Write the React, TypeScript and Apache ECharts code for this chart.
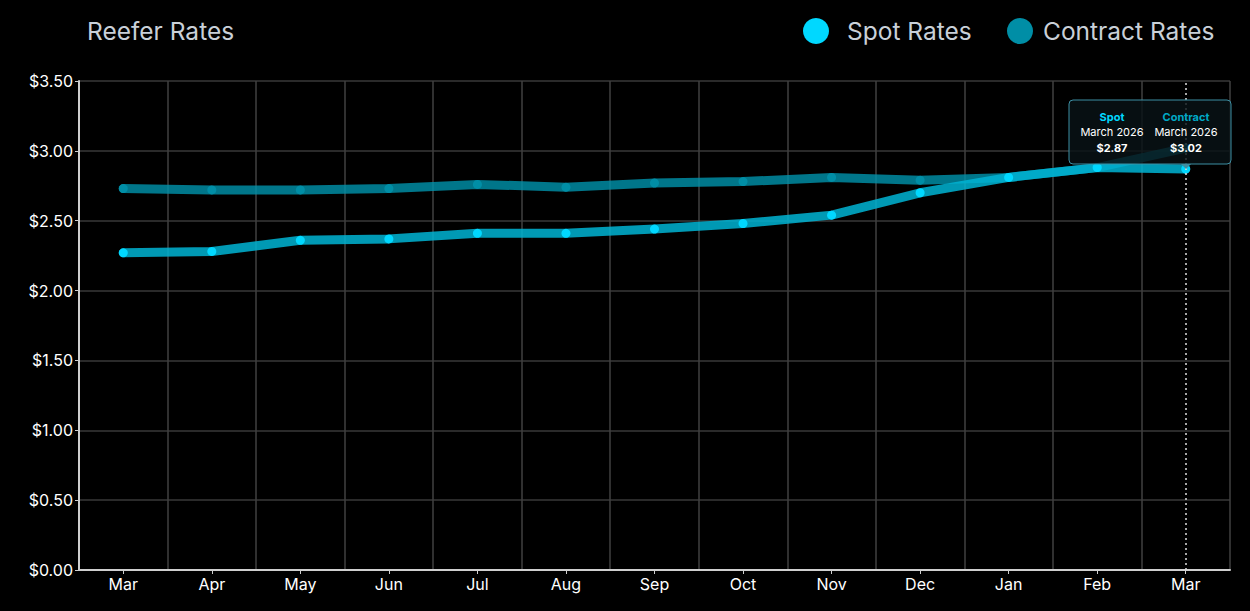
import React, { useEffect, useRef } from "react";
import * as echarts from "echarts";

const categories = ["Mar", "Apr", "May", "Jun", "Jul", "Aug", "Sep", "Oct", "Nov", "Dec", "Jan", "Feb", "Mar"];
const spotRates = [2.27, 2.28, 2.36, 2.37, 2.41, 2.41, 2.44, 2.48, 2.54, 2.70, 2.81, 2.88, 2.87];
const contractRates = [2.73, 2.72, 2.72, 2.73, 2.76, 2.74, 2.77, 2.78, 2.81, 2.79, 2.81, 2.88, 3.02];
const yTicks = [0, 0.5, 1, 1.5, 2, 2.5, 3, 3.5];
const tooltipPeriod = "March 2026";
const title = "Reefer Rates";
const seriesNames = ["Spot Rates", "Contract Rates"];

const SPOT = "#00d8ff";
const CONTRACT = "#0097b2";
const FONT = "Inter, 'Liberation Sans', sans-serif";

export default function App() {
  const ref = useRef<HTMLDivElement>(null);
  useEffect(() => {
    document.body.style.margin = "0";
    document.body.style.background = "#000";
    const chart = echarts.init(ref.current!, null, { renderer: "svg" });
    const last = categories.length - 1;
    const boxX = 1069, boxY = 100, boxW = 162, boxH = 64;
    const legendBase = {
      top: 18,
      padding: 0,
      icon: "circle",
      itemWidth: 26,
      itemHeight: 26,
    };
    chart.setOption({
      animation: false,
      backgroundColor: "#000",
      textStyle: { fontFamily: FONT },
      title: {
        text: title,
        left: 87,
        top: 18,
        padding: 0,
        textStyle: { color: "#c9d0d8", fontSize: 24.5, fontWeight: "normal", fontFamily: FONT },
      },
      legend: [
        {
          ...legendBase,
          left: 803,
          data: [seriesNames[0]],
          textStyle: { color: "#c9d0d8", fontSize: 24.5, fontFamily: FONT, padding: [0, 0, 0, 13] },
        },
        {
          ...legendBase,
          left: 1007,
          data: [seriesNames[1]],
          textStyle: { color: "#c9d0d8", fontSize: 24.5, fontFamily: FONT, padding: [0, 0, 0, 5] },
        },
      ],
      grid: { left: 79, right: 20, top: 81, bottom: 41, containLabel: false },
      xAxis: {
        type: "category",
        data: categories,
        boundaryGap: true,
        axisLine: { lineStyle: { color: "#cfcfcf", width: 2 } },
        axisTick: { show: true, alignWithLabel: true, length: 4, lineStyle: { color: "#cfcfcf" } },
        axisLabel: { color: "#ffffff", fontSize: 16, margin: 6, fontFamily: FONT },
        splitLine: { show: true, showMinLine: false, lineStyle: { color: "#404040", width: 1.5 } },
      },
      yAxis: {
        type: "value",
        min: yTicks[0],
        max: yTicks[yTicks.length - 1],
        interval: 0.5,
        axisLine: { show: true, lineStyle: { color: "#cfcfcf", width: 2 } },
        axisTick: { show: true, length: 4, lineStyle: { color: "#cfcfcf" } },
        axisLabel: {
          color: "#ffffff",
          fontSize: 16,
          margin: 6,
          fontFamily: FONT,
          formatter: (v: number) => "$" + v.toFixed(2),
        },
        splitLine: { show: true, lineStyle: { color: "#383838", width: 1.5 } },
      },
      series: [
        {
          name: seriesNames[1],
          type: "line",
          data: contractRates,
          color: CONTRACT,
          symbol: "circle",
          symbolSize: 9,
          itemStyle: { color: "#008ea6" },
          lineStyle: { color: "#0093ad", width: 9, opacity: 0.8, cap: "round", join: "round" },
          z: 2,
        },
        {
          name: seriesNames[0],
          type: "line",
          data: spotRates,
          color: SPOT,
          symbol: "circle",
          symbolSize: 9,
          itemStyle: { color: SPOT },
          lineStyle: { color: "#00b4d4", width: 9, opacity: 0.85, cap: "round", join: "round" },
          z: 3,
          markLine: {
            silent: true,
            symbol: "none",
            label: { show: false },
            lineStyle: { color: "#e0e0e0", type: [2, 3], width: 1.5 },
            data: [{ xAxis: last }],
          },
        },
      ],
      graphic: [
        {
          type: "rect",
          shape: { x: boxX, y: boxY, width: boxW, height: boxH, r: 4 },
          style: { fill: "rgba(8,18,22,0.82)", stroke: "#3d8fa3", lineWidth: 1 },
          z: 100,
        },
        {
          type: "polygon",
          shape: { points: [[1181, boxY + boxH], [1191, boxY + boxH], [1186, boxY + boxH + 5]] },
          style: { fill: "#3d8fa3" },
          z: 100,
        },
        ...[
          { label: "Spot", color: SPOT, cx: 1112, v: spotRates[last] },
          { label: "Contract", color: "#00a9c6", cx: 1186, v: contractRates[last] },
        ].flatMap((c) => [
          {
            type: "text",
            x: c.cx,
            y: 117,
            z: 101,
            style: { text: c.label, fill: c.color, font: `bold 11px ${FONT}`, align: "center", verticalAlign: "middle" },
          },
          {
            type: "text",
            x: c.cx,
            y: 132,
            z: 101,
            style: { text: tooltipPeriod, fill: "#ffffff", font: `11px ${FONT}`, align: "center", verticalAlign: "middle" },
          },
          {
            type: "text",
            x: c.cx,
            y: 148,
            z: 101,
            style: { text: "$" + c.v.toFixed(2), fill: "#ffffff", font: `bold 11px ${FONT}`, align: "center", verticalAlign: "middle" },
          },
        ]),
      ],
    });
    return () => chart.dispose();
  }, []);
  return <div ref={ref} style={{ width: 1250, height: 611, background: "#000" }} />;
}
